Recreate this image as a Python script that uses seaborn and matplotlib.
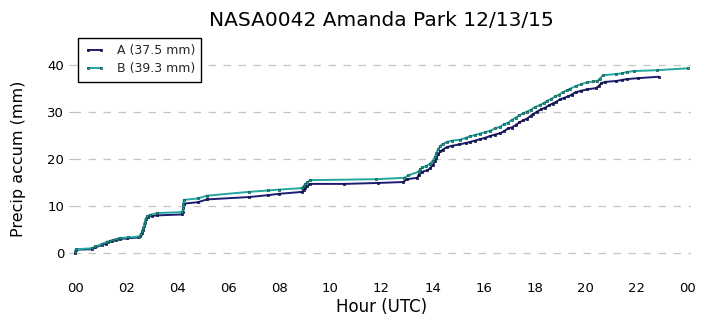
import matplotlib
matplotlib.use("Agg")
import matplotlib.pyplot as plt
import seaborn as sns
import pandas as pd

# ---- data ----
hours_a = [0.0, 0.03, 0.65, 0.8, 1.05, 1.2, 1.3, 1.45, 1.6, 1.75, 2.05, 2.45, 2.55, 2.62,
           2.66, 2.7, 2.74, 2.78, 2.85, 3.0, 3.2, 4.2, 4.22, 4.24, 4.26, 4.8, 5.17, 6.8,
           7.55, 8.0, 8.9, 8.95, 9.0, 9.1, 9.2, 10.55, 11.85, 12.85, 13.0, 13.4, 13.45,
           13.6, 13.8, 13.9, 14.0, 14.1, 14.15, 14.22, 14.3, 14.4, 14.55, 14.75, 15.05,
           15.3, 15.45, 15.65, 15.85, 16.05, 16.25, 16.45, 16.65, 16.8, 16.95, 17.1,
           17.25, 17.4, 17.55, 17.7, 17.85, 17.95, 18.1, 18.25, 18.4, 18.55, 18.7, 18.85,
           19.0, 19.15, 19.3, 19.45, 19.6, 19.8, 20.05, 20.4, 20.5, 20.6, 20.75, 21.2,
           21.4, 21.6, 22.05, 22.85]
accum_a = [0.0, 0.7, 0.8, 1.2, 1.7, 2.0, 2.3, 2.6, 2.8, 3.0, 3.1, 3.3, 3.6, 4.2,
           5.0, 5.8, 6.6, 7.3, 7.7, 7.9, 8.0, 8.2, 8.7, 9.6, 10.5, 10.8, 11.4, 11.9,
           12.3, 12.6, 13.0, 13.4, 13.9, 14.3, 14.7, 14.7, 14.9, 15.1, 15.7, 16.0, 16.6,
           17.3, 17.6, 18.0, 18.7, 19.5, 20.2, 21.0, 21.6, 22.0, 22.5, 22.8, 23.1,
           23.4, 23.6, 23.9, 24.2, 24.5, 24.9, 25.2, 25.5, 25.9, 26.5, 26.7,
           27.2, 27.8, 28.2, 28.6, 29.2, 29.6, 30.1, 30.6, 30.9, 31.4, 31.8, 32.2,
           32.7, 33.0, 33.3, 33.7, 34.2, 34.5, 34.8, 35.1, 35.5, 36.1, 36.4, 36.6,
           36.8, 37.0, 37.2, 37.5]

hours_b = [0.0, 0.03, 0.65, 0.8, 1.05, 1.25, 1.37, 1.5, 1.63, 1.76, 2.08, 2.5, 2.58,
           2.63, 2.68, 2.72, 2.76, 2.82, 2.93, 3.2, 4.2, 4.22, 4.24, 4.26, 4.8, 5.17,
           6.8, 7.55, 8.0, 8.88, 8.95, 9.02, 9.1, 9.2, 11.8, 12.9, 13.05, 13.45, 13.5,
           13.6, 13.75, 13.9, 14.0, 14.1, 14.15, 14.22, 14.3, 14.4, 14.55, 14.75, 15.07,
           15.3, 15.45, 15.65, 15.85, 16.05, 16.25, 16.45, 16.65, 16.8, 16.95, 17.1,
           17.25, 17.4, 17.55, 17.7, 17.85, 18.0, 18.2, 18.35, 18.5, 18.65, 18.8, 18.95,
           19.1, 19.25, 19.4, 19.6, 19.8, 20.05, 20.3, 20.45, 20.55, 20.67, 21.2, 21.4,
           21.6, 21.9, 22.8, 24.0]
accum_b = [0.3, 0.8, 1.0, 1.4, 1.9, 2.4, 2.6, 2.8, 3.0, 3.2, 3.3, 3.5, 4.0,
           4.6, 5.4, 6.3, 7.2, 7.8, 8.1, 8.5, 8.7, 9.5, 10.5, 11.3, 11.6, 12.2,
           13.0, 13.3, 13.5, 13.8, 14.2, 14.7, 15.1, 15.5, 15.7, 16.0, 16.5, 17.3, 17.8,
           18.2, 18.5, 19.0, 19.6, 20.5, 21.3, 22.1, 22.8, 23.2, 23.6, 23.9, 24.1,
           24.5, 24.8, 25.1, 25.4, 25.7, 26.0, 26.5, 26.9, 27.4, 27.7, 28.3,
           28.8, 29.3, 29.7, 30.1, 30.5, 31.0, 31.5, 31.9, 32.4, 32.8, 33.3, 33.7,
           34.2, 34.6, 35.0, 35.5, 35.9, 36.3, 36.5, 36.6, 37.1, 37.8, 38.1, 38.2,
           38.5, 38.7, 38.9, 39.3]

series_labels = ["A (37.5 mm)", "B (39.3 mm)"]
tick_hours = [0, 2, 4, 6, 8, 10, 12, 14, 16, 18, 20, 22, 24]
tick_labels = ["00", "02", "04", "06", "08", "10", "12", "14", "16", "18", "20", "22", "00"]
y_ticks = [0, 10, 20, 30, 40]

# ---- plot ----
sns.set_theme(style="white")
plt.rcParams['font.family'] = ['DejaVu Sans']

W, H = 706, 326
fig = plt.figure(figsize=(W / 100, H / 100), dpi=100)
left, right, top, bottom = 72.5, 690.5, 41.5, 276.5
ax = fig.add_axes([left / W, 1 - bottom / H, (right - left) / W, (bottom - top) / H])

df_a = pd.DataFrame({"hour": hours_a, "accum": accum_a})
df_b = pd.DataFrame({"hour": hours_b, "accum": accum_b})

col_a, col_b = "#1c1c72", "#22a89f"
sns.lineplot(data=df_a, x="hour", y="accum", ax=ax, sort=False, estimator=None,
             color=col_a, lw=1.4, marker="s", markersize=2.1,
             markeredgecolor="#0d0d3a", markerfacecolor=col_a, markeredgewidth=0.5,
             label=series_labels[0])
sns.lineplot(data=df_b, x="hour", y="accum", ax=ax, sort=False, estimator=None,
             color=col_b, lw=1.4, marker="s", markersize=2.1,
             markeredgecolor="#0e4c48", markerfacecolor=col_b, markeredgewidth=0.5,
             label=series_labels[1])

ax.set_xlim(-0.1, 24.1)
ax.set_ylim(-5, 45)
ax.set_xticks(tick_hours)
ax.set_xticklabels(tick_labels, fontsize=9.5)
ax.set_yticks(y_ticks)
ax.tick_params(axis='y', labelsize=9.5, length=3, width=0.8, color='#bbbbbb', pad=3, left=True)
ax.tick_params(axis='x', length=0, pad=4, labelcolor='black')
ax.tick_params(axis='y', labelcolor='black')

for s in ax.spines.values():
    s.set_visible(False)
ax.yaxis.grid(True, color='#c4c4c4', linestyle=(0, (6, 6)), linewidth=0.9)
ax.xaxis.grid(False)

ax.set_xlabel("Hour (UTC)", fontsize=12, labelpad=2, color='black')
ax.set_ylabel("Precip accum (mm)", fontsize=11.5, labelpad=15, color='black')
ax.set_title("NASA0042 Amanda Park 12/13/15", fontsize=14.5, pad=11, color='black')

leg = ax.legend(loc='upper left', bbox_to_anchor=(78 / W, 1 - 38 / H),
                bbox_transform=fig.transFigure, borderaxespad=0, frameon=True,
                fancybox=False, edgecolor='black', framealpha=1, fontsize=9,
                handlelength=1.6, numpoints=2, borderpad=0.5, labelspacing=0.4,
                handletextpad=1.0)
leg.get_frame().set_linewidth(1.0)

fig.savefig("out.png", dpi=100)
